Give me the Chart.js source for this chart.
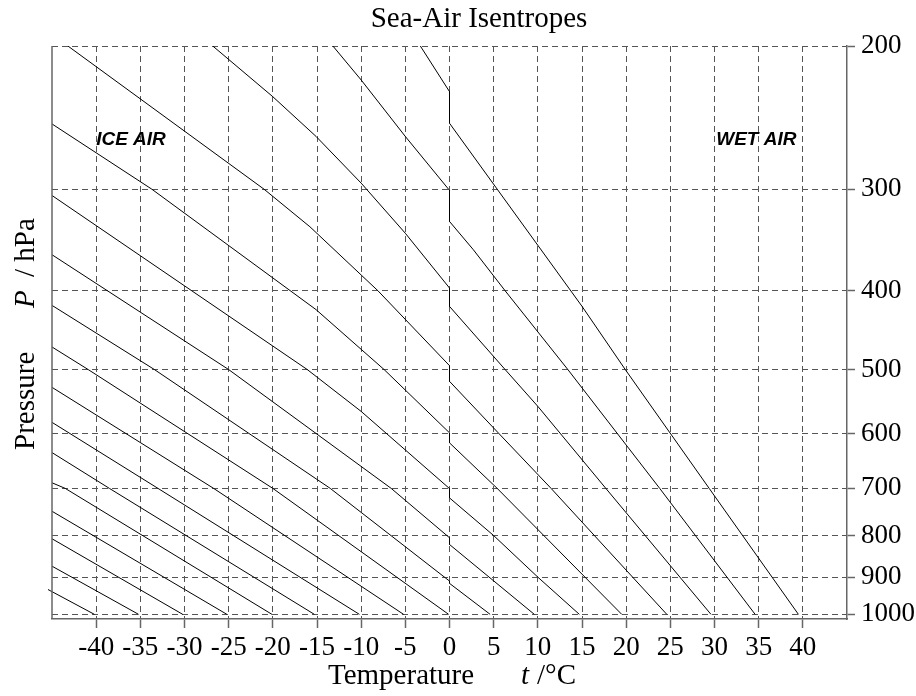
<!DOCTYPE html>
<html>
<head>
<meta charset="utf-8">
<title>Sea-Air Isentropes</title>
<script src="https://cdn.jsdelivr.net/npm/chart.js@4.4.1/dist/chart.umd.min.js"></script>
<style>
  html, body { margin: 0; padding: 0; background: #fff; }
  #chart { display: block; }
</style>
</head>
<body>
<canvas id="chart" width="916" height="696"></canvas>
<script>
const titleText = "Sea-Air Isentropes";
const xTicks = [-40, -35, -30, -25, -20, -15, -10, -5, 0, 5, 10, 15, 20, 25, 30, 35, 40];
const pTicks = [200, 300, 400, 500, 600, 700, 800, 900, 1000];

// isentropes as [t °C, P hPa], named by their temperature at 1000 hPa
const isoM40 = [[-45.46, 932], [-40.2, 1000]];
const isoM35 = [[-45.0, 872.5], [-35.2, 1000]];
const isoM30 = [[-45.0, 807.3], [-30.2, 1000]];
const isoM25 = [[-45.0, 746.8], [-25.2, 1000]];
const isoM20 = [[-45.0, 689], [-43.5, 700], [-20.1, 1000]];
const isoM15 = [[-45.0, 632.5], [-38.5, 700], [-15.3, 1000]];
const isoM10 = [[-45.0, 580.6], [-33.0, 700], [-10.2, 1000]];
const isoM05 = [[-45.0, 525.8], [-26.7, 700], [-5.2, 1000]];
const iso00 = [[-45.0, 469.0], [-40.9, 500], [-20.0, 700], [-0.1, 1000]];
const iso05 = [[-45.0, 416.9], [-33.4, 500], [-13.5, 700], [0, 910], [0, 916], [4.6, 1000]];
const iso10 = [[-45.0, 361.2], [-25.0, 500], [-6.6, 700], [0, 805], [0, 820.5], [9.6, 1000]];
const iso15 = [[-45.0, 305.4], [-16.1, 500], [-10.0, 562.9], [0, 700.3], [0, 719.1], [5.0, 800], [10.0, 900], [14.7, 1000]];
const iso20 = [[-45.0, 249.4], [-33.7, 300], [-15.1, 422], [-7.4, 500], [0, 598.1], [0, 615.3], [5.4, 700], [19.5, 1000]];
const iso25 = [[-43.2, 200], [-21.0, 300], [-15.8, 333.7], [-8.1, 400], [0, 494.5], [0, 516.9], [5.0, 590], [11.5, 700], [24.6, 1000]];
const iso30 = [[-26.8, 200], [-20.0, 230.9], [-15.1, 258.4], [-10.0, 294.9], [-5.0, 339.9], [0, 396.9], [0, 418.1], [6.3, 500], [10.0, 554.9], [17.7, 700], [29.6, 1000]];
const iso35 = [[-13.2, 200], [-10.0, 220.2], [-5.0, 258.4], [0, 301], [0, 328.7], [2.7, 356.1], [6.3, 400], [13.4, 500], [23.8, 700], [34.6, 1000]];
const iso40 = [[-3.3, 200], [0, 227.6], [0, 248.9], [5.4, 300], [15.0, 418], [19.9, 500], [29.4, 700], [39.5, 1000]];

const isentropes = [isoM40, isoM35, isoM30, isoM25, isoM20, isoM15, isoM10, isoM05,
  iso00, iso05, iso10, iso15, iso20, iso25, iso30, iso35, iso40];

const serif = "'Liberation Serif', 'Times New Roman', serif";
const sans = "'Liberation Sans', Arial, sans-serif";
const gridColor = "#555";
const frameColor = "#666";

// draws the pieces of a label one after another, some in italic
function drawPieces(ctx, pieces, size) {
  pieces.forEach(([text, x, italic]) => {
    ctx.font = `${italic ? "italic " : ""}${size}px ${serif}`;
    ctx.fillText(text, x, 0);
  });
}

const decorations = {
  id: "decorations",
  afterDraw(chart) {
    const { ctx, chartArea, scales } = chart;
    ctx.save();
    ctx.strokeStyle = frameColor;
    ctx.lineWidth = 1.5;
    ctx.beginPath();
    ctx.moveTo(chartArea.left, chartArea.top);
    ctx.lineTo(chartArea.left, chartArea.bottom);
    ctx.stroke();

    ctx.fillStyle = "#000";
    ctx.textBaseline = "alphabetic";
    ctx.textAlign = "center";
    ctx.font = `29px ${serif}`;
    ctx.fillText(titleText, 479, 27);

    ctx.textAlign = "left";
    ctx.save();
    ctx.translate(0, 684);
    drawPieces(ctx, [["Temperature", 328, false], ["t", 521, true], ["/°C", 537, false]], 29);
    ctx.restore();

    ctx.save();
    ctx.translate(34, 0);
    ctx.rotate(-Math.PI / 2);
    drawPieces(ctx, [["Pressure", -450, false], ["P", -308, true], ["/ hPa", -277, false]], 29);
    ctx.restore();

    ctx.font = `italic bold 19px ${sans}`;
    const yText = scales.y.getPixelForValue(265);
    ctx.fillText("ICE AIR", scales.x.getPixelForValue(-40), yText);
    ctx.fillText("WET AIR", scales.x.getPixelForValue(30.2), yText);
    ctx.restore();
  },
};

new Chart(document.getElementById("chart"), {
  type: "scatter",
  data: {
    datasets: isentropes.map((pts, i) => ({
      data: pts.map(([t, p]) => ({ x: t, y: p })),
      showLine: true,
      borderColor: "#000",
      borderWidth: 1,
      pointRadius: 0,
      pointHoverRadius: 0,
      clip: i === 0 ? { left: 4, top: 0, right: 0, bottom: 0 } : 0,
    })),
  },
  options: {
    responsive: false,
    animation: false,
    devicePixelRatio: 1,
    events: [],
    layout: { padding: { left: 52, top: 46, right: 0, bottom: 0 } },
    plugins: {
      legend: { display: false },
      title: { display: false },
      tooltip: { enabled: false },
    },
    scales: {
      x: {
        type: "linear",
        position: "bottom",
        min: -45,
        max: 45,
        afterBuildTicks: (axis) => {
          axis.ticks = xTicks.map((v) => ({ value: v }));
        },
        afterFit: (axis) => {
          axis.height = 77;
        },
        grid: { color: gridColor, lineWidth: 1, tickLength: 9, tickColor: frameColor, tickWidth: 1.5 },
        border: { display: true, color: frameColor, width: 1.5, dash: [6, 4] },
        ticks: {
          color: "#000",
          font: { family: serif, size: 27 },
          padding: 4,
          maxRotation: 0,
          autoSkip: false,
          callback: (v) => String(v),
        },
      },
      y: {
        type: "logarithmic",
        position: "right",
        reverse: true,
        min: 200,
        max: 1013.25,
        afterBuildTicks: (axis) => {
          axis.ticks = pTicks.map((v) => ({ value: v }));
        },
        afterFit: (axis) => {
          axis.width = 69;
        },
        grid: { color: gridColor, lineWidth: 1, tickLength: 8, tickColor: frameColor, tickWidth: 1.5 },
        border: { display: true, color: frameColor, width: 1.5, dash: [6, 4] },
        ticks: {
          color: "#000",
          font: { family: serif, size: 27 },
          padding: 6,
          autoSkip: false,
          callback: (v) => String(v),
        },
      },
    },
  },
  plugins: [decorations],
});
</script>
</body>
</html>
